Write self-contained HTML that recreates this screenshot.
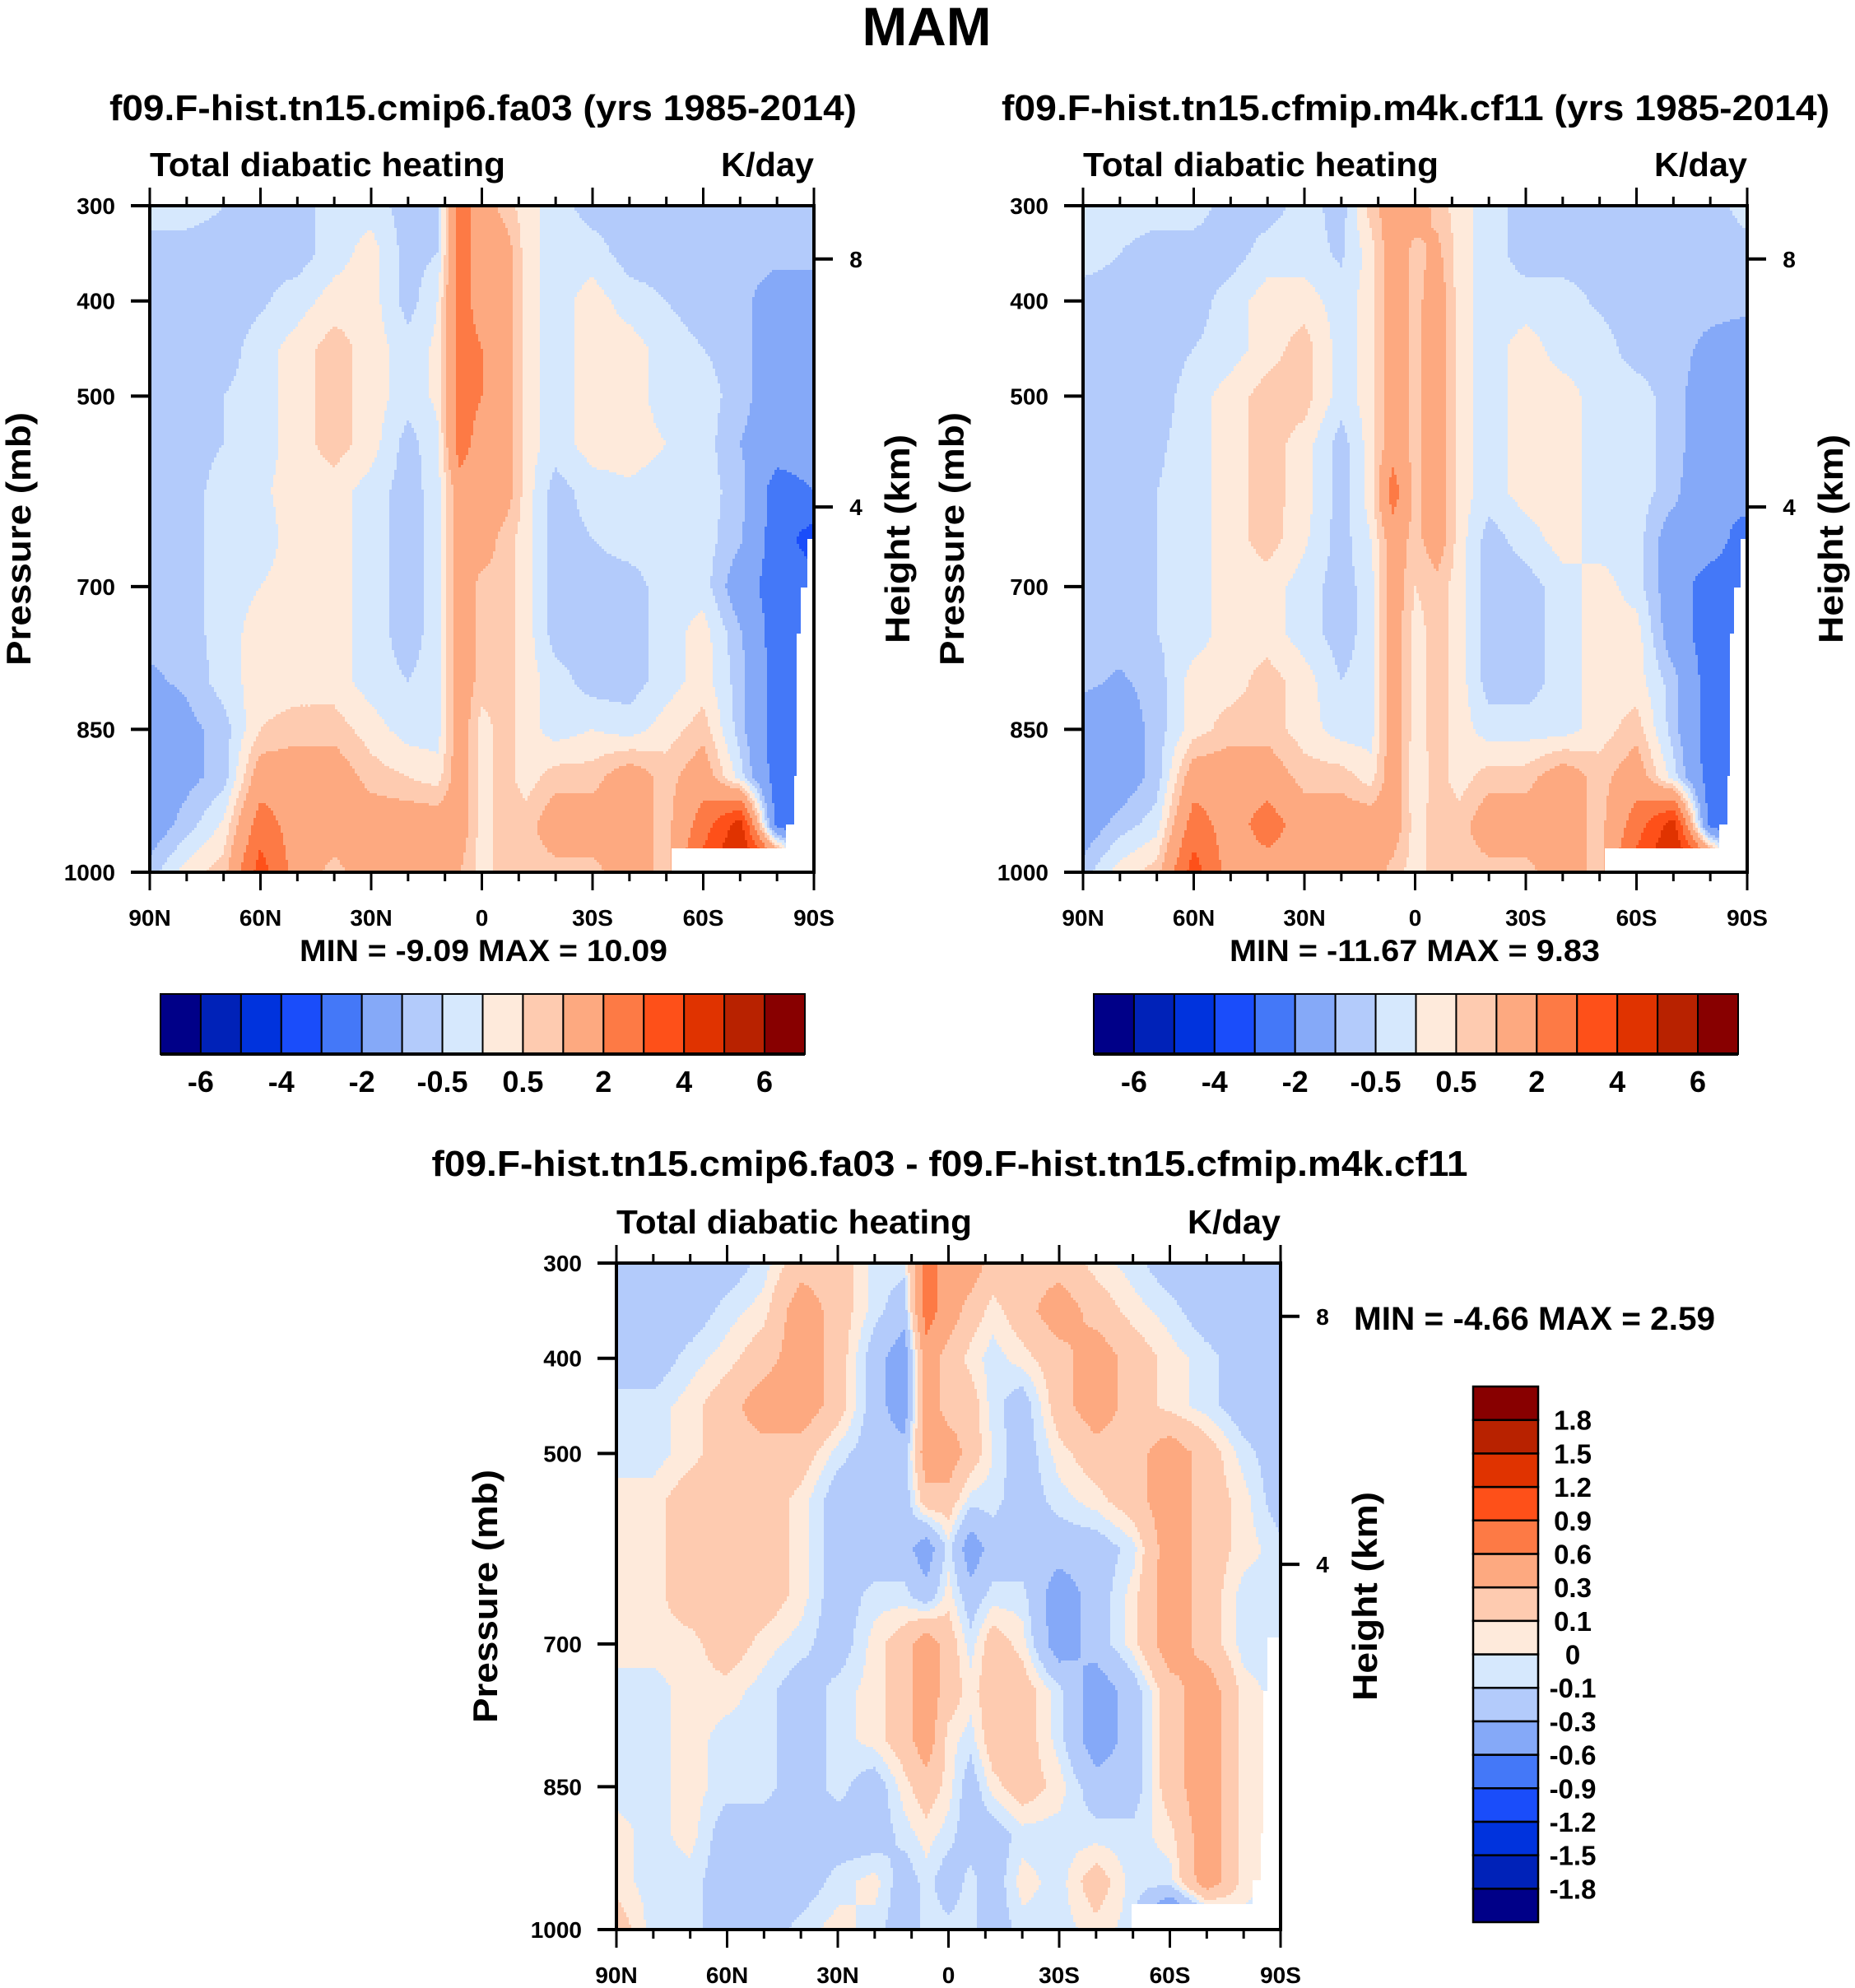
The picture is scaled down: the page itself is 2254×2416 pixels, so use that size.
<!DOCTYPE html>
<html><head><meta charset="utf-8"><style>
html,body{margin:0;padding:0;background:#fff}
svg{display:block}
text{font-family:"Liberation Sans",Arial,sans-serif;font-weight:bold;fill:#000}
</style></head><body>
<svg id="chart" width="2254" height="2416" viewBox="0 0 2254 2416" xmlns="http://www.w3.org/2000/svg">
<rect width="2254" height="2416" fill="#fff"/>
<text x="1126" y="55" font-size="66" text-anchor="middle" textLength="157" lengthAdjust="spacingAndGlyphs">MAM</text>
<g id="g1"></g>
<g id="g2"></g>
<g id="g3"></g>
</svg>
<script>
// ---- data ----
const lats = [90,80,70,60,50,40,30,20,12,6,0,-6,-12,-20,-30,-40,-50,-60,-70,-80,-90];
const levels = [300,350,400,450,500,550,600,650,700,750,800,850,900,950,1000];
const boundsTop = [-6,-5,-4,-3,-2,-1,-0.5,0,0.5,1,2,3,4,5,6];
const boundsDiff = [-1.8,-1.5,-1.2,-0.9,-0.6,-0.3,-0.1,0,0.1,0.3,0.6,0.9,1.2,1.5,1.8];
const cbLabelsTop = ["-6","-4","-2","-0.5","0.5","2","4","6"];
const cbLabelsDiff = ["1.8","1.5","1.2","0.9","0.6","0.3","0.1","0","-0.1","-0.3","-0.6","-0.9","-1.2","-1.5","-1.8"];
const xTickLabels = ["90N","60N","30N","0","30S","60S","90S"];
const xTickLats = [90,60,30,0,-30,-60,-90];
const pTicks = [300,400,500,700,850,1000];
const heightTicks = [8,4];
const palette = ["#000088","#0022b8","#0033dd","#1a4dfa","#4478f8","#85a9f8","#b3cbfb","#d6e8fd","#feeadb","#fecbb0","#fda980","#fd7a45","#fe5019","#e03300","#b82200","#880000"];
const fieldA = [
[-0.25,-0.25,-0.5,-0.75,-0.75,-0.25,-0.25,-0.75,-0.5,2.5,1.5,0.75,0.25,-0.25,-0.75,-0.75,-0.75,-0.75,-0.75,-0.75,-0.75],
[-0.75,-0.75,-0.75,-0.6,-0.75,-0.25,0.25,-0.75,-0.5,2.5,1.5,1.5,0.25,-0.25,-0.25,-0.75,-0.75,-0.75,-0.75,-0.75,-0.75],
[-0.75,-0.75,-0.75,-0.6,-0.25,0.25,0.25,-0.75,0.0,2.5,1.5,1.5,0.25,-0.25,0.25,-0.25,-0.5,-0.75,-0.75,-1.5,-1.5],
[-0.75,-0.75,-0.75,-0.25,0.25,0.75,0.25,-0.25,0.1,2.5,2.0,1.5,0.25,-0.25,0.25,0.25,-0.25,-0.5,-0.75,-1.5,-1.5],
[-0.75,-0.75,-0.5,-0.25,0.25,0.75,0.25,-0.25,0.1,2.5,2.0,1.5,0.25,-0.25,0.25,0.25,-0.25,-0.25,-0.75,-1.5,-1.5],
[-0.75,-0.75,-0.5,-0.25,0.25,0.75,0.25,-0.75,-0.1,2.5,1.5,1.5,0.25,-0.25,0.25,0.25,0.0,-0.25,-1.0,-1.5,-1.5],
[-0.75,-0.75,-0.25,-0.1,0.25,0.25,-0.25,-0.75,-0.25,1.5,1.5,1.5,0.25,-0.75,-0.25,-0.1,-0.25,-0.25,-0.75,-2.5,-2.0],
[-0.75,-0.75,-0.25,-0.25,0.25,0.25,-0.25,-0.75,-0.25,1.5,1.5,0.75,0.25,-0.75,-0.5,-0.25,-0.25,-0.25,-0.9,-2.5,-3.5],
[-0.75,-0.75,-0.25,0.0,0.25,0.25,-0.25,-0.75,-0.25,1.5,0.75,0.75,0.25,-0.75,-0.75,-0.75,-0.25,-0.25,-1.5,-2.5,-2.5],
[-0.85,-0.75,-0.25,0.25,0.25,0.25,-0.25,-0.75,-0.25,1.5,0.75,0.75,0.25,-0.75,-0.75,-0.75,-0.25,0.25,-0.9,-2.5,-2.5],
[-1.1,-0.9,-0.25,0.25,0.25,0.25,-0.25,-0.5,-0.25,1.5,0.75,0.75,0.25,-0.25,-0.75,-0.75,-0.25,0.25,-0.75,-2.5,-2.5],
[-1.5,-1.2,-0.75,0.5,0.75,0.75,0.25,-0.25,-0.25,1.5,0.25,0.75,0.25,-0.25,0.0,-0.25,0.25,0.75,-0.75,-2.5,-2.5],
[-1.5,-1.2,-0.75,1.5,1.5,1.5,0.75,0.5,0.25,1.5,0.25,0.75,0.25,0.75,0.75,1.5,0.75,1.5,-0.25,-2.5,-2.5],
[-1.5,-0.75,0.1,2.5,1.5,1.5,1.5,1.5,1.5,1.5,0.25,0.75,0.75,1.5,1.5,1.5,0.75,2.5,4.5,-2.5,-2.5],
[-0.75,0.25,0.75,3.5,1.5,0.75,1.5,1.5,1.5,1.0,0.25,0.75,0.75,0.75,0.75,1.5,0.75,3.5,5.5,4.5,-2.5]];
const fieldB = [
[-0.25,-0.25,-0.25,-0.25,-0.75,-0.75,-0.25,-0.75,0.75,1.5,1.5,0.75,0.25,-0.25,-0.75,-0.75,-0.75,-0.75,-0.75,-0.75,-0.25],
[-0.25,-0.5,-0.75,-0.75,-0.75,-0.25,-0.25,-0.6,0.25,1.5,0.75,1.2,0.25,-0.25,-0.75,-0.75,-0.75,-0.75,-0.75,-0.75,-0.75],
[-0.75,-0.75,-0.75,-0.75,-0.25,0.25,0.25,-0.25,0.25,1.5,0.75,1.5,0.25,-0.25,-0.25,-0.25,-0.6,-0.75,-0.75,-0.75,-0.75],
[-0.75,-0.75,-0.75,-0.5,-0.25,0.25,0.75,-0.25,0.25,1.5,0.75,1.5,0.25,-0.25,0.25,-0.25,-0.25,-0.75,-0.75,-1.2,-1.5],
[-0.75,-0.75,-0.75,-0.25,0.25,0.75,0.75,-0.25,0.25,1.5,0.75,1.5,0.25,-0.25,0.25,0.25,-0.25,-0.25,-0.75,-1.5,-1.5],
[-0.75,-0.75,-0.6,-0.25,0.25,0.75,0.25,-0.75,0.25,1.5,0.75,1.5,0.25,-0.25,0.25,0.25,-0.25,-0.25,-0.75,-1.5,-1.5],
[-0.75,-0.75,-0.5,-0.25,0.25,0.75,0.25,-0.75,0.25,2.5,0.75,1.5,0.25,-0.25,0.25,0.25,-0.25,-0.25,-0.75,-2.0,-1.5],
[-0.75,-0.75,-0.5,-0.25,0.25,0.75,0.1,-0.75,0.0,1.5,0.75,1.5,0.25,-0.75,-0.25,0.25,-0.25,-0.25,-1.5,-1.5,-2.5],
[-0.75,-0.75,-0.5,-0.25,0.25,0.25,-0.25,-0.75,-0.25,1.5,0.5,0.75,0.25,-0.75,-0.75,-0.25,0.25,-0.25,-1.5,-2.5,-2.5],
[-0.75,-0.75,-0.5,-0.25,0.25,0.25,-0.25,-0.75,-0.25,1.5,0.25,0.75,0.25,-0.75,-0.75,-0.25,0.25,0.25,-1.5,-2.5,-2.5],
[-0.85,-1.1,-0.75,0.25,0.25,0.75,0.25,-0.5,-0.25,1.5,0.25,0.75,0.25,-0.75,-0.75,-0.25,0.25,0.25,-0.75,-2.5,-2.5],
[-1.5,-1.5,-0.75,0.25,0.75,0.75,0.25,-0.25,-0.25,1.5,0.25,0.75,0.25,-0.25,-0.25,-0.25,0.25,0.75,-0.75,-2.5,-2.5],
[-1.5,-1.5,-0.75,1.5,1.5,1.5,0.75,0.75,0.25,1.5,0.1,0.75,0.25,0.75,0.75,1.5,0.75,1.5,-0.25,-2.5,-2.5],
[-1.5,-0.75,-0.25,2.5,1.5,2.5,1.5,1.5,1.5,1.5,0.25,0.75,0.75,1.5,1.5,1.5,0.75,2.5,4.5,-2.5,-2.5],
[-0.75,0.25,0.75,3.5,1.5,1.5,1.5,1.5,1.5,0.75,0.25,0.75,0.75,0.75,0.75,1.5,0.75,3.5,5.5,4.5,-2.5]];
const fieldD = [
[-0.2,-0.2,-0.2,-0.2,-0.05,0.2,0.2,-0.05,-0.05,0.75,0.45,0.45,0.2,0.2,0.2,0.05,-0.05,-0.2,-0.2,-0.2,-0.2],
[-0.2,-0.2,-0.2,-0.05,0.05,0.45,0.2,-0.05,-0.2,0.75,0.45,0.2,0.05,0.2,0.45,0.2,0.05,-0.05,-0.2,-0.2,-0.2],
[-0.2,-0.2,-0.05,0.05,0.2,0.45,0.2,-0.2,-0.45,0.45,0.2,0.05,-0.05,0.05,0.2,0.45,0.2,0.05,-0.05,-0.2,-0.2],
[-0.05,-0.05,0.05,0.2,0.45,0.45,0.2,-0.2,-0.45,0.45,0.2,0.2,-0.05,-0.2,0.2,0.45,0.2,0.05,-0.05,-0.2,-0.2],
[-0.05,-0.05,0.05,0.2,0.2,0.2,-0.05,-0.2,-0.2,0.45,0.45,0.2,0.0,-0.2,0.05,0.2,0.2,0.45,0.2,-0.05,-0.2],
[0.05,0.05,0.2,0.2,0.2,0.05,-0.2,-0.2,-0.2,0.2,0.2,-0.05,-0.05,-0.2,-0.05,0.05,0.2,0.45,0.2,0.05,-0.2],
[0.05,0.05,0.2,0.2,0.2,0.05,-0.2,-0.2,-0.2,-0.45,-0.05,-0.45,-0.2,-0.2,-0.2,-0.2,-0.05,0.45,0.2,0.05,-0.05],
[0.05,0.05,0.2,0.2,0.2,0.05,-0.2,-0.05,-0.05,-0.2,0.05,-0.2,-0.05,-0.05,-0.45,-0.2,0.05,0.45,0.2,-0.05,-0.05],
[0.05,0.05,0.05,0.2,0.05,-0.05,-0.2,0.05,0.2,0.45,0.2,-0.05,0.2,0.05,-0.45,-0.2,0.05,0.45,0.2,-0.05,-0.05],
[-0.05,-0.05,0.05,0.05,-0.05,-0.2,-0.05,0.05,0.2,0.45,0.2,0.05,0.2,0.2,-0.05,-0.45,-0.2,0.2,0.45,0.05,-0.05],
[-0.05,-0.05,0.05,-0.05,-0.05,-0.2,-0.05,0.05,0.2,0.45,0.05,-0.05,0.2,0.2,-0.05,-0.45,-0.2,0.2,0.45,0.05,-0.05],
[-0.05,-0.05,0.05,-0.05,-0.05,-0.2,-0.05,-0.2,0.05,0.2,0.05,-0.2,0.05,0.2,0.05,-0.2,-0.2,0.2,0.45,0.05,-0.05],
[0.05,-0.05,0.05,-0.2,-0.2,-0.2,-0.2,-0.2,-0.05,0.05,-0.05,-0.2,-0.2,-0.05,-0.05,-0.05,-0.05,0.05,0.45,0.05,-0.05],
[0.05,-0.05,-0.05,-0.2,-0.2,-0.2,-0.05,0.05,-0.2,-0.05,-0.2,-0.05,-0.2,0.05,-0.05,0.2,-0.05,-0.05,0.45,0.05,-0.05],
[0.2,-0.05,-0.05,-0.2,-0.2,-0.05,0.05,-0.05,-0.2,-0.05,-0.05,-0.05,-0.2,-0.05,-0.05,0.05,-0.05,-0.9,-0.45,-0.05,-0.05]];

const NS="http://www.w3.org/2000/svg";
function mk(parent,tag,attrs,txt){const e=document.createElementNS(NS,tag);for(const k in attrs)e.setAttribute(k,attrs[k]);if(txt!==undefined)e.textContent=txt;parent.appendChild(e);return e;}
function classify(v,b){let c=0;while(c<b.length&&v>=b[c])c++;return c;}
function heightToP(km){return 1013.25*Math.pow(1-2.25577e-5*km*1000,5.25588);}

function drawPanel(g,P){
  const xS=lat=>P.x+(90-lat)/180*P.w;
  const yS=p=>P.y+(p-300)/700*P.h;
  const cells=mk(g,'g',{});
  
  
  const dx=3,dy=3;
  for(let py=0;py<P.h;py+=dy){
    const p=300+(py+dy/2)/P.h*700;
    let i=Math.min(levels.length-2,Math.floor((p-300)/50));
    const ty=(p-levels[i])/(levels[i+1]-levels[i]);
    let runStart=0,runCls=-1;
    const flush=(end)=>{
      if(runCls<0)return;
      const r=mk(cells,'rect',{x:P.x+runStart,y:P.y+py,width:end-runStart+0.6,height:Math.min(dy,P.h-py)+0.6,fill:palette[runCls]});
      
      
    };
    for(let px=0;px<P.w;px+=dx){
      const lat=90-(px+dx/2)/P.w*180;
      let j=0;while(j<lats.length-2&&lat<lats[j+1])j++;
      const tx=(lats[j]-lat)/(lats[j]-lats[j+1]);
      const F=P.field;
      const v=(1-ty)*((1-tx)*F[i][j]+tx*F[i][j+1])+ty*((1-tx)*F[i+1][j]+tx*F[i+1][j+1]);
      const c=classify(v,P.bounds);
      if(c!==runCls){flush(px);runStart=px;runCls=c;}
    }
    flush(P.w);
  }
  const m=P.mask.map(q=>(P.x+q[0])+','+(P.y+q[1])).join(' ');
  const mask=mk(g,'polygon',{points:m,fill:'#fff'});
  
  
  const fr=mk(g,'rect',{x:P.x,y:P.y,width:P.w,height:P.h,fill:'none',stroke:'#000','stroke-width':4});
  
  
  for(let lat=90;lat>=-90;lat-=10){
    const major=lat%30===0;const L=major?22:11;const x=xS(lat);
    const t1=mk(g,'line',{x1:x,x2:x,y1:P.y,y2:P.y-L,stroke:'#000','stroke-width':3});
    
    
    const t2=mk(g,'line',{x1:x,x2:x,y1:P.y+P.h,y2:P.y+P.h+L,stroke:'#000','stroke-width':3});
    
    
  }
  xTickLats.forEach((lat,k)=>{
    const t=mk(g,'text',{x:xS(lat),y:P.y+P.h+65,'font-size':28,'text-anchor':'middle'},xTickLabels[k]);
    
    
  });
  pTicks.forEach(p=>{
    const y=yS(p);
    const l=mk(g,'line',{x1:P.x-23,x2:P.x,y1:y,y2:y,stroke:'#000','stroke-width':4});
    
    
    const t=mk(g,'text',{x:P.x-42,y:y+10,'font-size':28,'text-anchor':'end'},String(p));
    
    
  });
  heightTicks.forEach(h=>{
    const y=yS(heightToP(h));
    const l=mk(g,'line',{x1:P.x+P.w,x2:P.x+P.w+23,y1:y,y2:y,stroke:'#000','stroke-width':4});
    
    
    const t=mk(g,'text',{x:P.x+P.w+51,y:y+10,'font-size':28,'text-anchor':'middle'},String(h));
    
    
  });
  const a=mk(g,'text',{x:P.x,y:P.y-36,'font-size':41,textLength:432,lengthAdjust:'spacingAndGlyphs'},'Total diabatic heating');
  
  
  const u=mk(g,'text',{x:P.x+P.w,y:P.y-36,'font-size':41,'text-anchor':'end',textLength:113,lengthAdjust:'spacingAndGlyphs'},'K/day');
  
  
  const tt=mk(g,'text',{x:P.tx,y:P.ty,'font-size':44,'text-anchor':'middle',textLength:P.tl,lengthAdjust:'spacingAndGlyphs'},P.title);
  
  
  const yl=mk(g,'text',{x:0,y:0,'font-size':42,'text-anchor':'middle',textLength:308,lengthAdjust:'spacingAndGlyphs',transform:`translate(${P.plx},${P.y+P.h*0.5}) rotate(-90)`},'Pressure (mb)');
  
  
  const hl=mk(g,'text',{x:0,y:0,'font-size':42,'text-anchor':'middle',textLength:254,lengthAdjust:'spacingAndGlyphs',transform:`translate(${P.hlx},${P.y+P.h*0.5}) rotate(-90)`},'Height (km)');
  
  
}

function hColorbar(g,x,y,w,h,labels,mm,mmx,mmw){
  const n=palette.length,bw=w/n;
  palette.forEach((c,k)=>{
    const r=mk(g,'rect',{x:x+k*bw,y:y,width:bw,height:h,fill:c,stroke:'#000','stroke-width':2});
    
    
  });
  const bl=mk(g,'line',{x1:x,x2:x+w,y1:y+h,y2:y+h,stroke:'#000','stroke-width':4});
  
  
  labels.forEach((s,k)=>{
    const t=mk(g,'text',{x:x+(2*k+1)*bw,y:y+h+46,'font-size':36,'text-anchor':'middle'},s);
    
    
  });
  const m=mk(g,'text',{x:mmx,y:1168,'font-size':37,textLength:mmw,lengthAdjust:'spacingAndGlyphs'},mm);
  
  
}

const maskTop=[[807,405],[799,405],[799,464],[791,464],[791,520],[786,520],[786,693],[783,693],[783,752],[773,752],[773,781],[634,781],[634,810],[807,810]];
const maskDiff=[[807,455],[791,455],[791,520],[786,520],[786,693],[783,693],[783,750],[773,750],[773,779],[626,779],[626,810],[807,810]];

drawPanel(document.getElementById('g1'),{x:182,y:250,w:807,h:810,field:fieldA,bounds:boundsTop,mask:maskTop,title:'f09.F-hist.tn15.cmip6.fa03 (yrs 1985-2014)',tx:587,ty:146,tl:908,plx:37,hlx:1105});
drawPanel(document.getElementById('g2'),{x:1316,y:250,w:807,h:810,field:fieldB,bounds:boundsTop,mask:maskTop,title:'f09.F-hist.tn15.cfmip.m4k.cf11 (yrs 1985-2014)',tx:1720,ty:146,tl:1006,plx:1171,hlx:2239});
drawPanel(document.getElementById('g3'),{x:749,y:1535,w:807,h:810,field:fieldD,bounds:boundsDiff,mask:maskDiff,title:'f09.F-hist.tn15.cmip6.fa03 - f09.F-hist.tn15.cfmip.m4k.cf11',tx:1154,ty:1429,tl:1259,plx:604,hlx:1673});

hColorbar(document.getElementById('g1'),195,1208,783,73,cbLabelsTop,'MIN =  -9.09  MAX =  10.09',364,447);
hColorbar(document.getElementById('g2'),1329,1208,783,73,cbLabelsTop,'MIN = -11.67  MAX =   9.83',1494,450);

(function(){
  const g=document.getElementById('g3');
  const x=1790,y=1685,w=79,h=651,n=palette.length,bh=h/n;
  palette.forEach((c,k)=>{
    const r=mk(g,'rect',{x:x,y:y+(n-1-k)*bh,width:w,height:bh,fill:c,stroke:'#000','stroke-width':2.5});
    
    
  });
  cbLabelsDiff.forEach((s,k)=>{
    const t=mk(g,'text',{x:1911,y:y+(k+1)*bh+12,'font-size':33,'text-anchor':'middle'},s);
    
    
  });
  const m=mk(g,'text',{x:1645,y:1616,'font-size':40,textLength:439,lengthAdjust:'spacingAndGlyphs'},'MIN =  -4.66  MAX =   2.59');
  
  
})();
</script>
</body></html>
